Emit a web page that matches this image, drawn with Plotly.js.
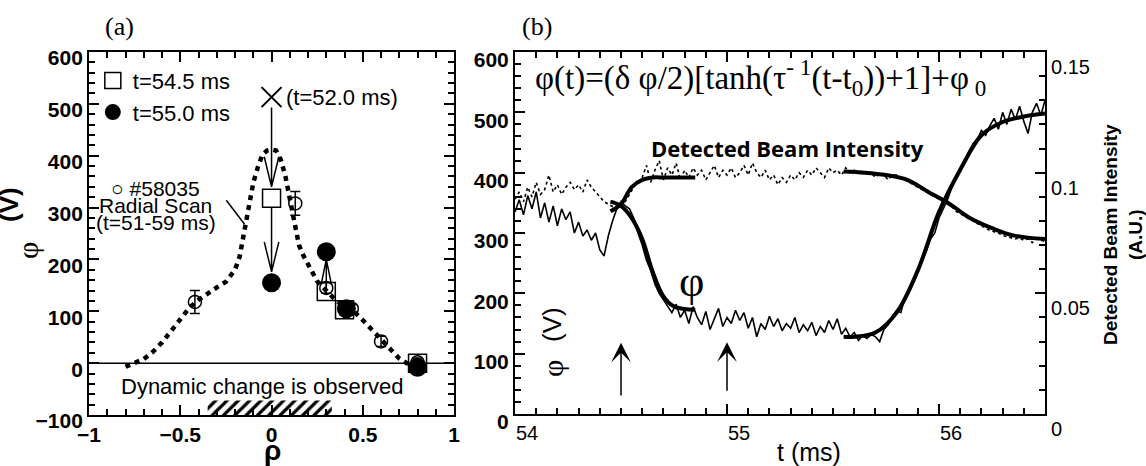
<!DOCTYPE html>
<html><head><meta charset="utf-8">
<script src="https://cdn.plot.ly/plotly-3.0.1.min.js"></script>
<style>html,body{margin:0;padding:0;background:#fff}
#wrap{position:relative;width:1146px;height:466px}
#axesLayer,#marksLayer{position:absolute;left:0;top:0;width:1146px;height:466px}</style>
</head><body><div id="wrap"><div id="axesLayer"></div><div id="marksLayer"></div></div>
<script>
// ---------- Panel (a): potential profile ----------
const profileRho = [-0.80,-0.75,-0.70,-0.65,-0.60,-0.55,-0.50,-0.45,-0.40,-0.35,-0.30,-0.25,-0.20,-0.175,-0.15,-0.125,-0.10,-0.075,-0.05,-0.025,0,0.025,0.05,0.075,0.10,0.125,0.15,0.175,0.20,0.25,0.30,0.35,0.40,0.45,0.50,0.55,0.60,0.65,0.70,0.75,0.78];
const profilePhi = [-7,0,8,22,40,62,85,107,122,135,146,157,180,205,252,310,348,378,402,410,412,410,393,362,320,275,228,207,190,158,140,122,108,100,83,64,45,25,9,-2,-5];
const scanRho = [-0.42,0.13,0.30,0.44,0.60,0.80];
const scanPhi = [118,308,145,105,42,2];
const scanErr = [22,23,10,8,10,8];
const sq545Rho = [0,0.30,0.40,0.80];
const sq545Phi = [318,138,103,0];
const fc550Rho = [0,0.30,0.41,0.80];
const fc550Phi = [155,215,105,-8];
const x520Rho = [0];
const x520Phi = [513];
const hatchRho = [-0.35,0.33];
const hatchPhi = [-100,-72];

// ---------- Panel (b): time evolution ----------
const tms = [54.00,54.02,54.04,54.06,54.08,54.10,54.12,54.14,54.16,54.18,
54.20,54.22,54.24,54.26,54.28,54.30,54.32,54.34,54.36,54.38,
54.40,54.42,54.44,54.46,54.48,54.50,54.52,54.54,54.56,54.58,
54.60,54.62,54.64,54.66,54.68,54.70,54.72,54.74,54.76,54.78,
54.80,54.82,54.84,54.86,54.88,54.90,54.92,54.94,54.96,54.98,
55.00,55.02,55.04,55.06,55.08,55.10,55.12,55.14,55.16,55.18,
55.20,55.22,55.24,55.26,55.28,55.30,55.32,55.34,55.36,55.38,
55.40,55.42,55.44,55.46,55.48,55.50,55.52,55.54,55.56,55.58,
55.60,55.62,55.64,55.66,55.68,55.70,55.72,55.74,55.76,55.78,
55.80,55.82,55.84,55.86,55.88,55.90,55.92,55.94,55.96,55.98,
56.00,56.02,56.04,56.06,56.08,56.10,56.12,56.14,56.16,56.18,
56.20,56.22,56.24,56.26,56.28,56.30,56.32,56.34,56.36,56.38,
56.40,56.42,56.44,56.46,56.48,56.50];
const phiV = [335,355,330,362,340,368,325,350,318,345,
312,340,322,335,300,318,295,305,288,300,
272,262,295,320,340,352,345,340,325,300,
280,255,238,215,200,190,178,168,182,160,
172,150,178,160,148,170,140,158,175,145,
160,150,172,155,168,142,160,128,150,140,
162,145,158,138,150,142,160,135,148,138,
152,130,145,135,155,140,158,132,142,128,
135,122,130,125,132,128,120,140,148,162,
172,168,195,205,225,240,255,270,290,300,
325,340,355,375,390,405,418,435,448,455,
470,462,478,490,472,500,480,505,488,510,
485,465,500,515,495,520];
const beamAU = [0.089,0.092,0.088,0.094,0.090,0.096,0.091,0.093,0.099,0.092,
0.095,0.091,0.094,0.096,0.093,0.095,0.092,0.097,0.094,0.092,
0.090,0.088,0.087,0.086,0.087,0.086,0.088,0.091,0.094,0.096,
0.098,0.103,0.096,0.101,0.105,0.097,0.102,0.099,0.104,0.097,
0.101,0.098,0.102,0.099,0.101,0.097,0.100,0.103,0.098,0.101,
0.099,0.102,0.098,0.100,0.103,0.099,0.104,0.100,0.098,0.101,
0.097,0.099,0.095,0.098,0.096,0.099,0.097,0.100,0.098,0.101,
0.099,0.102,0.100,0.098,0.102,0.100,0.101,0.099,0.102,0.100,
0.101,0.100,0.101,0.099,0.100,0.098,0.100,0.099,0.097,0.099,
0.099,0.098,0.097,0.096,0.095,0.094,0.093,0.092,0.091,0.090,
0.089,0.088,0.087,0.086,0.084,0.083,0.082,0.081,0.080,0.079,
0.078,0.077,0.076,0.0755,0.075,0.074,0.0735,0.073,0.0725,0.073,
0.072,0.0725,0.071,0.0725,0.072,0.0715];
const phiFit1T = [54.45,54.50,54.55,54.60,54.65,54.70,54.75,54.80,54.85];
const phiFit1 = [352,345,325,290,235,195,178,174,173];
const phiFit2T = [55.55,55.60,55.70,55.80,55.90,56.00,56.10,56.20,56.30,56.40,56.50];
const phiFit2 = [128,128,135,168,238,335,405,462,484,493,498];
const beamFit1T = [54.45,54.50,54.55,54.60,54.65,54.70,54.75,54.80,54.85];
const beamFit1 = [0.084,0.087,0.094,0.097,0.098,0.098,0.098,0.098,0.098];
const beamFit2T = [55.55,55.65,55.75,55.85,55.95,56.05,56.15,56.25,56.35,56.50];
const beamFit2 = [0.1005,0.100,0.099,0.097,0.092,0.087,0.081,0.077,0.074,0.0725];

// ---------- shared geometry ----------
const W = 1146, H = 466;
const px = (x, y) => ({xref:'paper', yref:'paper', x: x / W, y: 1 - y / H, xanchor:'center', yanchor:'middle'});
const SANS = 'Liberation Sans, Arial, sans-serif';
const SERIF = 'Liberation Serif, Times New Roman, serif';
const DOM = {xa:[0.0777,0.3962], ya:[0.1094,0.8884], xb:[0.4494,0.9119], yb:[0.1116,0.8884]};
const RNG = {xa:[-1,1], ya:[-100,600], xb:[54,56.5], yb:[0,600], yc:[0,0.15]};

// ---------- layer 1: axes + line traces ----------
const minorBase = {ticks:'inside', ticklen:6, tickwidth:1.5, tickcolor:'black'};
const axisBase = {ticks:'inside', ticklen:10, tickwidth:1.5, tickcolor:'black', showline:true, linewidth:2,
  linecolor:'black', showgrid:false, zeroline:false, tickmode:'linear'};
const lineTraces = [
  {x:[hatchRho[0],hatchRho[1],hatchRho[1],hatchRho[0]], y:[hatchPhi[0],hatchPhi[0],hatchPhi[1],hatchPhi[1]],
   xaxis:'x', yaxis:'y', mode:'lines', fill:'toself', line:{width:0, color:'rgba(0,0,0,0)'},
   fillcolor:'white', fillpattern:{shape:'/', fgcolor:'black', bgcolor:'white', size:8, solidity:0.4}, showlegend:false},
  {x:profileRho, y:profilePhi, xaxis:'x', yaxis:'y', mode:'lines', line:{color:'black', width:4.5, dash:'5px,5px'}, showlegend:false},
  {x:tms, y:beamAU, xaxis:'x2', yaxis:'y3', mode:'lines', line:{color:'black', width:1.6, dash:'dot'}, showlegend:false},
  {x:tms, y:phiV, xaxis:'x2', yaxis:'y2', mode:'lines', line:{color:'black', width:1.6}, showlegend:false}
];
const axesLayout = {
  width:W, height:H, margin:{l:0, r:0, t:0, b:0}, paper_bgcolor:'white', plot_bgcolor:'white',
  font:{family:SANS, color:'black'}, showlegend:false,
  xaxis:Object.assign({}, axisBase, {domain:DOM.xa, anchor:'y', range:RNG.xa, tick0:0, dtick:0.5,
    mirror:'ticks', tickfont:{size:21, weight:'bold'}, minor:Object.assign({dtick:0.1}, minorBase)}),
  yaxis:Object.assign({}, axisBase, {domain:DOM.ya, anchor:'x', range:RNG.ya, tick0:0, dtick:100,
    mirror:'ticks', tickfont:{size:21, weight:'bold'}, ticklabelshift:6, minor:Object.assign({dtick:20}, minorBase)}),
  xaxis2:Object.assign({}, axisBase, {domain:DOM.xb, anchor:'y2', range:RNG.xb, tick0:54, dtick:1,
    mirror:'ticks', tickfont:{size:20}, ticklabelshift:12, minor:Object.assign({dtick:0.1}, minorBase)}),
  yaxis2:Object.assign({}, axisBase, {domain:DOM.yb, anchor:'x2', range:RNG.yb, tick0:0, dtick:100,
    tickfont:{size:21, weight:'bold'}, ticklabelshift:8, minor:Object.assign({dtick:20}, minorBase)}),
  yaxis3:Object.assign({}, axisBase, {overlaying:'y2', side:'right', anchor:'x2', range:RNG.yc, tick0:0, dtick:0.05,
    tickfont:{size:20}, ticklabelshift:15, minor:Object.assign({dtick:0.01}, minorBase)}),
  shapes:[{type:'line', xref:'x', yref:'y', x0:-1, x1:1, y0:0, y1:0, line:{color:'black', width:1.5}}]
};

// ---------- layer 2: markers, fits, labels ----------
const markTraces = [
  {x:scanRho, y:scanPhi, xaxis:'x', yaxis:'y', mode:'markers',
   marker:{symbol:'circle-open', size:13, color:'black', line:{width:1.5}},
   error_y:{type:'data', array:scanErr, visible:true, color:'black', thickness:1.5, width:5}, showlegend:false},
  {x:sq545Rho, y:sq545Phi, xaxis:'x', yaxis:'y', mode:'markers', name:'t=54.5 ms',
   marker:{symbol:'square-open', size:18, color:'black', line:{width:1.5}}},
  {x:fc550Rho, y:fc550Phi, xaxis:'x', yaxis:'y', mode:'markers', name:'t=55.0 ms',
   marker:{symbol:'circle', size:19, color:'black'}},
  {x:x520Rho, y:x520Phi, xaxis:'x', yaxis:'y', mode:'markers', showlegend:false,
   marker:{symbol:'x-thin-open', size:20, color:'black', line:{width:2, color:'black'}}},
  {x:phiFit1T, y:phiFit1, xaxis:'x2', yaxis:'y2', mode:'lines', line:{color:'black', width:4, shape:'spline'}, showlegend:false},
  {x:phiFit2T, y:phiFit2, xaxis:'x2', yaxis:'y2', mode:'lines', line:{color:'black', width:4, shape:'spline'}, showlegend:false},
  {x:beamFit1T, y:beamFit1, xaxis:'x2', yaxis:'y3', mode:'lines', line:{color:'black', width:4, shape:'spline'}, showlegend:false},
  {x:beamFit2T, y:beamFit2, xaxis:'x2', yaxis:'y3', mode:'lines', line:{color:'black', width:4, shape:'spline'}, showlegend:false}
];
const hid = (dom, rng, anchor, extra) => Object.assign({domain:dom, range:rng, anchor:anchor, visible:false, fixedrange:true}, extra || {});
const marksLayout = {
  width:W, height:H, margin:{l:0, r:0, t:0, b:0}, paper_bgcolor:'rgba(0,0,0,0)', plot_bgcolor:'rgba(0,0,0,0)',
  font:{family:SANS, color:'black'}, showlegend:true,
  legend:{x:0.081, y:0.872, xanchor:'left', yanchor:'top', bgcolor:'rgba(0,0,0,0)', font:{size:22}, tracegroupgap:0},
  xaxis:hid(DOM.xa, RNG.xa, 'y'), yaxis:hid(DOM.ya, RNG.ya, 'x'),
  xaxis2:hid(DOM.xb, RNG.xb, 'y2'), yaxis2:hid(DOM.yb, RNG.yb, 'x2'),
  yaxis3:hid(DOM.yb, RNG.yc, 'x2', {overlaying:'y2', side:'right'}),
  shapes:[
    {type:'line', xref:'x', yref:'y', x0:-0.248, y0:314, x1:-0.148, y1:268, line:{color:'black', width:1.5}},
    {type:'path', xref:'x', yref:'y', path:'M0,493 L0,340 M-0.04,398 L0,340 L0.04,398', line:{color:'black', width:1.5}},
    {type:'path', xref:'x', yref:'y', path:'M0,300 L0,176 M-0.04,234 L0,176 L0.04,234', line:{color:'black', width:1.5}},
    {type:'path', xref:'x', yref:'y', path:'M0.3,148 L0.3,200 M0.272,152 L0.3,200 L0.328,152', line:{color:'black', width:1.5}}
  ],
  annotations:[
    Object.assign(px(119,27), {text:'(a)', showarrow:false, font:{family:SERIF, size:26}}),
    Object.assign(px(537,27), {text:'(b)', showarrow:false, font:{family:SERIF, size:26}}),
    {xref:'x', yref:'y', x:0.07, y:513, xanchor:'left', text:'(t=52.0 ms)', showarrow:false, font:{size:22}},
    {xref:'x', yref:'y', x:-0.634, y:337, text:'○ #58035', showarrow:false, font:{size:21}},
    {xref:'x', yref:'y', x:-0.634, y:304, text:'Radial Scan', showarrow:false, font:{size:21}},
    {xref:'x', yref:'y', x:-0.634, y:271, text:'(t=51-59 ms)', showarrow:false, font:{size:21}},
    {xref:'x', yref:'y', x:-0.055, y:-45, text:'Dynamic change is observed', showarrow:false, font:{size:22}},
    Object.assign(px(272,450), {text:'ρ', showarrow:false, font:{size:28, weight:'bold'}}),
    Object.assign(px(27,251), {text:'φ', textangle:-90, showarrow:false, font:{family:SERIF, size:30}}),
    Object.assign(px(9,205), {text:'(V)', textangle:-90, showarrow:false, font:{size:26, weight:'bold'}}),
    Object.assign(px(533,77), {xanchor:'left', text:'φ(t)=(δ φ/2)[tanh(τ<sup>- 1</sup>(t-t<sub>0</sub>))+1]+φ<sub> 0</sub>', showarrow:false, font:{family:SERIF, size:33}}),
    Object.assign(px(787,148), {text:'Detected Beam Intensity', showarrow:false, font:{family:'Open Sans, sans-serif', size:22, weight:'bold'}}),
    {xref:'x2', yref:'y2', x:54.834, y:220, text:'φ', showarrow:false, font:{family:SERIF, size:44}},
    Object.assign(px(552,369), {text:'φ', textangle:-90, showarrow:false, font:{family:SERIF, size:30}}),
    Object.assign(px(552,325), {text:'(V)', textangle:-90, showarrow:false, font:{size:26}}),
    Object.assign(px(809,452), {text:'t (ms)', showarrow:false, font:{size:25}}),
    Object.assign(px(1123,235), {text:'Detected Beam Intensity<br>(A.U.)', textangle:-90, showarrow:false, font:{size:19, weight:'bold'}}),
    {xref:'x2', yref:'y2', x:54.5, y:118, axref:'x2', ayref:'y2', ax:54.5, ay:28, text:'', showarrow:true,
     arrowhead:3, arrowsize:2.2, arrowwidth:1.5, arrowcolor:'black'},
    {xref:'x2', yref:'y2', x:55.0, y:119, axref:'x2', ayref:'y2', ax:55.0, ay:36, text:'', showarrow:true,
     arrowhead:3, arrowsize:2.2, arrowwidth:1.5, arrowcolor:'black'}
  ]
};

Plotly.newPlot('axesLayer', lineTraces, axesLayout, {displayModeBar:false})
  .then(function(){ return Plotly.newPlot('marksLayer', markTraces, marksLayout, {displayModeBar:false, staticPlot:true}); });
</script></body></html>
